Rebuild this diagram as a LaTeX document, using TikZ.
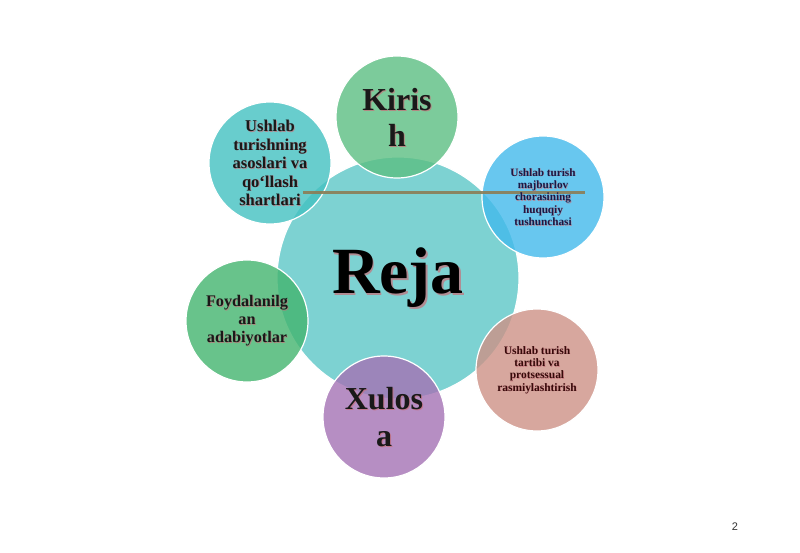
\documentclass[tikz,border=0pt]{standalone}
\usepackage{fontspec}
\setmainfont{Liberation Serif}
\newfontfamily\pagefont{Liberation Sans}
\definecolor{cmain}{RGB}{125,210,210}
\definecolor{ckiris}{RGB}{92,191,130}
\definecolor{ctl}{RGB}{67,193,193}
\definecolor{ctr}{RGB}{67,186,236}
\definecolor{cleft}{RGB}{67,180,111}
\definecolor{cxul}{RGB}{164,114,180}
\definecolor{cbr}{RGB}{205,146,134}
\definecolor{cline}{RGB}{140,125,85}
\definecolor{cshadow}{RGB}{200,110,120}
\definecolor{cnavy}{RGB}{25,25,70}
\definecolor{cmaroon}{RGB}{55,10,10}
\begin{document}
\begin{tikzpicture}[x=1pt,y=-1pt,
  bubble/.style={circle, draw=white, line width=1.2pt, fill opacity=0.8, inner sep=0pt},
  lbl/.style={align=center, font=\bfseries, inner sep=0pt},
  shd/.style={lbl, text=cshadow, text opacity=0.7}]
\useasboundingbox (0,0) rectangle (800,553);
\fill[white] (0,0) rectangle (800,553);
% central circle
\node[bubble, fill=cmain, minimum size=242pt, fill opacity=1] (reja) at (398,278) {};
% satellites
\node[bubble, fill=ckiris, minimum size=122pt] (kiris) at (397,117) {};
\node[bubble, fill=ctl, minimum size=122pt] (tl) at (270,163) {};
\node[bubble, fill=ctr, minimum size=122pt] (tr) at (543,197) {};
\node[bubble, fill=cleft, minimum size=122pt] (left) at (247,321) {};
\node[bubble, fill=cxul, minimum size=122pt] (xul) at (384,417) {};
\node[bubble, fill=cbr, minimum size=122pt] (br) at (537,370) {};
% horizontal line
\coordinate (la) at (303,193);
\coordinate (lb) at (585,193);
\draw[cline, line width=3pt, opacity=0.9] (la) -- (lb);
% texts
\node[shd, font=\bfseries\fontsize{66}{70}\selectfont] at ([shift={(1.5,1.5)}]reja.center) {Reja};
\node[lbl, font=\bfseries\fontsize{66}{70}\selectfont] (tReja) at (reja.center) {Reja};
\node[shd, font=\bfseries\fontsize{32}{36}\selectfont] at ([shift={(1,1)}]kiris.center) {Kiris\\h};
\node[lbl, font=\bfseries\fontsize{32}{36}\selectfont, text=black!90] (tKiris) at (kiris.center) {Kiris\\h};
\node[shd, font=\bfseries\fontsize{32}{37}\selectfont] at ([shift={(1,1)}]xul.center) {Xulos\\a};
\node[lbl, font=\bfseries\fontsize{32}{37}\selectfont, text=black!90] (tXul) at (xul.center) {Xulos\\a};
\node[shd, font=\bfseries\fontsize{16.5}{18.5}\selectfont] at ([shift={(0.8,0.8)}]tl.center) {Ushlab\\turishning\\asoslari va\\qo‘llash\\shartlari};
\node[lbl, font=\bfseries\fontsize{16.5}{18.5}\selectfont, text=black!90] (tTl) at (tl.center) {Ushlab\\turishning\\asoslari va\\qo‘llash\\shartlari};
\node[shd, font=\bfseries\fontsize{16.2}{18}\selectfont] at ([shift={(0.8,0.8)}]left.center) {Foydalanilg\\an\\adabiyotlar};
\node[lbl, font=\bfseries\fontsize{16.2}{18}\selectfont, text=black!90] (tLeft) at (left.center) {Foydalanilg\\an\\adabiyotlar};
\node[shd, font=\bfseries\fontsize{11.2}{12.3}\selectfont] at ([shift={(0.6,0.6)}]tr.center) {Ushlab turish\\majburlov\\chorasining\\huquqiy\\tushunchasi};
\node[lbl, font=\bfseries\fontsize{11.2}{12.3}\selectfont, text=cnavy] (tTr) at (tr.center) {Ushlab turish\\majburlov\\chorasining\\huquqiy\\tushunchasi};
\node[shd, font=\bfseries\fontsize{11.4}{12.3}\selectfont] at ([shift={(0.6,0.6)}]br.center) {Ushlab turish\\tartibi va\\protsessual\\rasmiylashtirish};
\node[lbl, font=\bfseries\fontsize{11.4}{12.3}\selectfont, text=cmaroon] (tBr) at (br.center) {Ushlab turish\\tartibi va\\protsessual\\rasmiylashtirish};
% page number
\node[font=\pagefont\fontsize{11}{13}\selectfont, text=black!80] (pg) at (735,527) {2};
\end{tikzpicture}
\end{document}
